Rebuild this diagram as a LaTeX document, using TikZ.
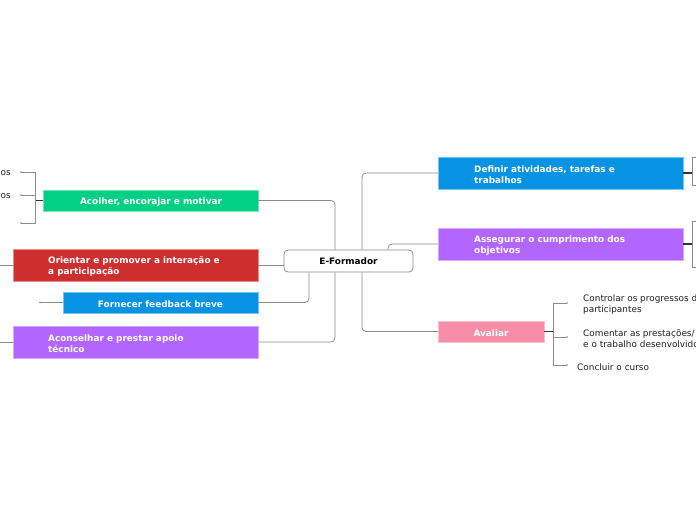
\documentclass[tikz,border=0pt]{standalone}
\usepackage{fontspec}
\setmainfont{DejaVu Sans}
\definecolor{cgreen}{HTML}{00D084}
\definecolor{cred}{HTML}{CF2E2E}
\definecolor{cblue}{HTML}{0693E3}
\definecolor{cpurple}{HTML}{B366FF}
\definecolor{cpink}{HTML}{F78DA7}
\definecolor{cline}{HTML}{8C8C8C}
\definecolor{cdark}{HTML}{333333}
\definecolor{ctext}{HTML}{222222}
\begin{document}
\begin{tikzpicture}[x=1pt,y=-1pt,
  box/.style={fill=#1, draw=#1!55!white, line width=0.5pt, inner sep=0pt},
  boxtext/.style={text=white, font=\fontsize{8.9}{11}\selectfont\bfseries, align=left, inner sep=0pt},
  leaf/.style={text=ctext, font=\fontsize{8.9}{11}\selectfont, align=left, inner sep=0pt},
  conn/.style={draw=cline, line width=0.8pt, rounded corners=4pt},
  stub/.style={draw=cline, line width=0.8pt},
  thick stub/.style={draw=cdark, line width=1.3pt},
  tipdot/.style={circle, fill=cline, inner sep=0pt, minimum size=1.8pt}
]
\useasboundingbox (0,0) rectangle (696,520);
\clip (0,0) rectangle (696,520);
\fill[white] (0,0) rectangle (696,520);

% boxes
\node[box=cgreen, minimum width=215pt, minimum height=21pt] (acolher) at (150.5,200.5) {};
\node[boxtext] (acolhert) at (151,202) {Acolher, encorajar e motivar};
\node[box=cred, minimum width=245pt, minimum height=32pt] (orientar) at (135.5,265) {};
\node[boxtext, anchor=west] (orientart) at (48,266.5) {Orientar e promover a interação e\\a participação};
\node[box=cblue, minimum width=195pt, minimum height=21pt] (fornecer) at (160.5,302.5) {};
\node[boxtext] (fornecert) at (160.5,304) {Fornecer feedback breve};
\node[box=cpurple, minimum width=245pt, minimum height=32pt] (aconselhar) at (135.5,342) {};
\node[boxtext, anchor=west] (aconselhart) at (48,344) {Aconselhar e prestar apoio\\técnico};

\draw[draw=cline, line width=0.8pt, rounded corners=4pt] (acolher.east) -| ([xshift=-13.5pt]348.5,250);

\node[draw=cline, fill=white, rounded corners=4pt, line width=0.8pt, minimum width=129pt, minimum height=22pt, inner sep=0pt,
  font=\fontsize{8.9}{10}\selectfont\bfseries, text=black] (central) at (348.5,261) {\raisebox{-1pt}{E-Formador}};

\node[box=cblue, minimum width=245pt, minimum height=32pt] (definir) at (560.5,173) {};
\node[boxtext, anchor=west] (definirt) at (474,175) {Definir atividades, tarefas e\\trabalhos};
\node[box=cpurple, minimum width=245pt, minimum height=32pt] (assegurar) at (560.5,244) {};
\node[boxtext, anchor=west] (assegurart) at (474,245.5) {Assegurar o cumprimento dos\\objetivos};
\node[box=cpink, minimum width=106pt, minimum height=21pt] (avaliar) at (491,331.5) {};
\node[boxtext] (avaliart) at (491,333) {Avaliar};

% main connectors
\draw[conn] (aconselhar.east) -| ([xshift=-13.5pt]central.south);
\draw[conn] (orientar.east) -- (orientar.east -| central.west);
\draw[conn] (fornecer.east) -| ([xshift=-39.5pt]central.south);
\draw[conn] (definir.west) -| ([xshift=13.5pt]central.north);
\draw[conn] (avaliar.west) -| ([xshift=13.5pt]central.south);
\draw[conn] (assegurar.west) -| ([xshift=39.5pt]central.north);

% left children of Acolher
\coordinate (ab) at (35,200.5);
\node[tipdot] (a1) at (21,172) {};
\node[tipdot] (a2) at (21,195) {};
\node[tipdot] (a3) at (21,223) {};
\draw[thick stub] (acolher.west) -- (ab);
\draw[stub] (a1.center) -- (35,172) -- (35,223) -- (a3.center);
\draw[stub] (a2.center) -- (35,195);
\node[leaf, anchor=east] (a1t) at (11,173.5) {os};
\node[leaf, anchor=east] (a2t) at (11,196.5) {os};

% other left stubs
\coordinate (oe) at (0,265);
\draw[stub] (orientar.west) -- (oe);
\node[tipdot] (fd) at (40,302.5) {};
\draw[stub] (fornecer.west) -- (fd.center);
\coordinate (ace) at (0,342);
\draw[stub] (aconselhar.west) -- (ace);

% right children of Definir
\coordinate (db) at (692,173);
\draw[thick stub] (definir.east) -- (db);
\draw[stub] (700,157) -- (692,157) -- (692,185) -- (700,185);

% right children of Assegurar
\coordinate (sb) at (692,244);
\draw[thick stub] (assegurar.east) -- (sb);
\draw[stub] (700,221) -- (692,221) -- (692,267) -- (700,267);

% children of Avaliar
\coordinate (vb) at (553,331.5);
\node[tipdot] (v1) at (567,303) {};
\node[tipdot] (v2) at (567,337) {};
\node[tipdot] (v3) at (567,365) {};
\draw[thick stub] (avaliar.east) -- (vb);
\draw[stub] (v1.center) -- (553,303) -- (553,365) -- (v3.center);
\draw[stub] (v2.center) -- (553,337);
\node[leaf, anchor=west] (v1t) at (583,305) {Controlar os progressos dos\\participantes};
\node[leaf, anchor=west] (v2t) at (583,339) {Comentar as prestações/\\e o trabalho desenvolvido};
\node[leaf, anchor=west] (v3t) at (577,367) {Concluir o curso};
\end{tikzpicture}
\end{document}
